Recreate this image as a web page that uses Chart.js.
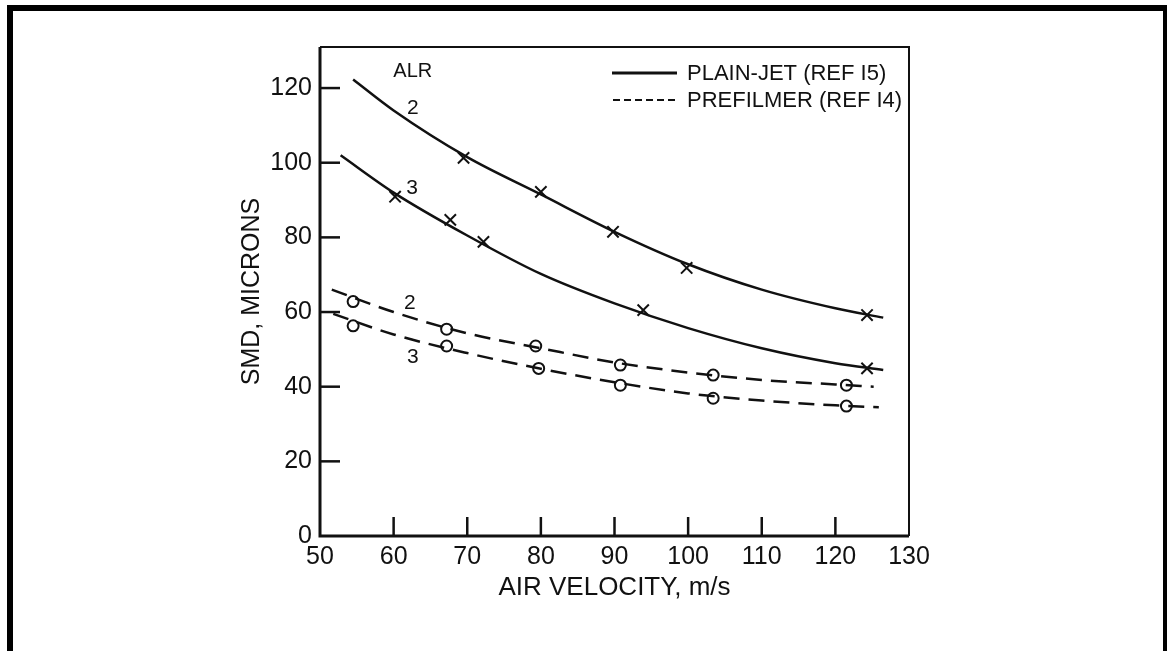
<!DOCTYPE html>
<html>
<head>
<meta charset="utf-8">
<script src="https://cdn.jsdelivr.net/npm/chart.js@4.4.1/dist/chart.umd.min.js"></script>
<style>
  html, body { margin: 0; padding: 0; background: #fff; }
  #wrap { position: relative; width: 1167px; height: 651px; }
</style>
</head>
<body>
<div id="wrap"><canvas id="grafica"></canvas></div>
<script>
// ticks
var xTicks = [50, 60, 70, 80, 90, 100, 110, 120, 130];
var yTicks = [0, 20, 40, 60, 80, 100, 120];

// fitted curves
var jet2X = [54.5, 60, 70, 80, 90, 100, 110, 120, 126.5];
var jet2Y = [122.3, 114, 101.5, 91.5, 81.5, 72.8, 66, 61, 58.5];
var jet3X = [52.8, 60, 70, 80, 90, 100, 110, 120, 126.5];
var jet3Y = [102, 92, 80.5, 70.2, 62.3, 55.7, 50.3, 46.3, 44.5];
var pre2X = [51.6, 60, 70, 80, 90, 100, 110, 120, 125.2];
var pre2Y = [66, 60, 54.3, 50.3, 46.5, 43.8, 41.8, 40.6, 40];
var pre3X = [51.8, 60, 70, 80, 90, 100, 110, 120, 125.9];
var pre3Y = [59.5, 54, 49, 44.8, 41.2, 38.2, 36.3, 35, 34.5];

// measured points
var jetPts2X = [69.5, 80, 89.8, 99.8, 124.3];
var jetPts2Y = [101.3, 92.2, 81.5, 71.8, 59.2];
var jetPts3X = [60.2, 67.7, 72.2, 93.9, 124.3];
var jetPts3Y = [90.9, 84.7, 78.8, 60.5, 44.9];
var prePts2X = [54.5, 67.2, 79.3, 90.8, 103.4, 121.5];
var prePts2Y = [62.8, 55.4, 50.9, 45.8, 43.1, 40.4];
var prePts3X = [54.5, 67.2, 79.7, 90.8, 103.4, 121.5];
var prePts3Y = [56.3, 50.9, 44.9, 40.4, 36.9, 34.8];

// text on the plot: [x, y, text]
var notas = [[62.6, 124.4, 'ALR'], [62.6, 114.6, '2'], [62.5, 93.2, '3'], [62.2, 62.4, '2'], [62.6, 48, '3']];
var leyenda = ['PLAIN-JET (REF I5)', 'PREFILMER (REF I4)'];

var fuente = '"Liberation Sans", Arial, sans-serif';
var tinta = '#111';

function puntos(xs, ys) {
    return xs.map(function (x, i) { return { x: x, y: ys[i] }; });
}

function curva(xs, ys, dash) {
    return {
        data: puntos(xs, ys),
        borderColor: tinta,
        borderWidth: 2.5,
        borderDash: dash,
        pointRadius: 0,
        fill: false,
        tension: 0.4,
        cubicInterpolationMode: 'monotone'
    };
}

function marcas(xs, ys, estilo, radio) {
    return {
        data: puntos(xs, ys),
        showLine: false,
        pointStyle: estilo,
        pointRadius: radio,
        pointBorderWidth: 2,
        pointBorderColor: tinta,
        pointBackgroundColor: '#fff'
    };
}

var dibujo = {
    id: 'dibujo',
    beforeDraw: function (chart) {
        var c = chart.ctx;
        c.save();
        c.fillStyle = '#fff';
        c.fillRect(0, 0, chart.width, chart.height);
        c.fillStyle = '#000';
        c.fillRect(7, 5, 1160, 6);
        c.fillRect(7, 5, 6, 646);
        c.fillRect(1163, 5, 4, 646);
        c.restore();
    },
    afterDraw: function (chart) {
        var c = chart.ctx, a = chart.chartArea;
        var sx = chart.scales.x, sy = chart.scales.y;
        c.save();
        c.strokeStyle = tinta;
        // box
        c.lineWidth = 2;
        c.beginPath();
        c.moveTo(a.left, a.top); c.lineTo(a.right, a.top); c.lineTo(a.right, a.bottom);
        c.stroke();
        c.lineWidth = 3;
        c.beginPath();
        c.moveTo(a.left, a.top); c.lineTo(a.left, a.bottom); c.lineTo(a.right, a.bottom);
        c.stroke();
        // inward ticks
        c.lineWidth = 2.5;
        xTicks.slice(1, -1).forEach(function (v) {
            var px = sx.getPixelForValue(v);
            c.beginPath(); c.moveTo(px, a.bottom); c.lineTo(px, a.bottom - 19); c.stroke();
        });
        yTicks.slice(1).forEach(function (v) {
            var py = sy.getPixelForValue(v);
            c.beginPath(); c.moveTo(a.left, py); c.lineTo(a.left + 20, py); c.stroke();
        });
        // notes
        c.fillStyle = tinta;
        c.textAlign = 'center';
        c.textBaseline = 'middle';
        notas.forEach(function (n) {
            c.font = (n[2] === 'ALR' ? '20px ' : '21px ') + fuente;
            c.fillText(n[2], sx.getPixelForValue(n[0]), sy.getPixelForValue(n[1]));
        });
        // legend
        c.font = '22px ' + fuente;
        c.textAlign = 'left';
        c.lineWidth = 3;
        c.beginPath(); c.moveTo(612, 73); c.lineTo(677, 73); c.stroke();
        c.fillText(leyenda[0], 687, 74);
        c.lineWidth = 2;
        c.setLineDash([7, 4]);
        c.beginPath(); c.moveTo(613, 100); c.lineTo(677, 100); c.stroke();
        c.setLineDash([]);
        c.fillText(leyenda[1], 687, 101);
        c.restore();
    }
};

var ctx = document.getElementById('grafica').getContext('2d');

var miGrafico = new Chart(ctx, {
    type: 'line',
    data: {
        datasets: [
            curva(jet2X, jet2Y, []),
            curva(jet3X, jet3Y, []),
            curva(pre2X, pre2Y, [16, 9]),
            curva(pre3X, pre3Y, [16, 9]),
            marcas(jetPts2X, jetPts2Y, 'crossRot', 8),
            marcas(jetPts3X, jetPts3Y, 'crossRot', 8),
            marcas(prePts2X, prePts2Y, 'circle', 5.5),
            marcas(prePts3X, prePts3Y, 'circle', 5.5)
        ]
    },
    options: {
        responsive: true,
        maintainAspectRatio: false,
        animation: false,
        layout: { padding: { left: 0, top: 47, right: 258, bottom: 0 } },
        plugins: {
            legend: { display: false },
            tooltip: { enabled: false }
        },
        scales: {
            x: {
                type: 'linear',
                min: 50,
                max: 130,
                afterBuildTicks: function (s) { s.ticks = xTicks.map(function (v) { return { value: v }; }); },
                afterFit: function (s) { s.height = 115; },
                grid: { display: false, drawTicks: false },
                border: { display: false },
                ticks: { color: tinta, padding: 6, maxRotation: 0, font: { family: fuente, size: 25 } },
                title: {
                    display: true,
                    text: 'AIR VELOCITY, m/s',
                    color: tinta,
                    font: { family: fuente, size: 26 },
                    padding: { top: 0, bottom: 48 }
                }
            },
            y: {
                min: 0,
                max: 131,
                afterBuildTicks: function (s) { s.ticks = yTicks.map(function (v) { return { value: v }; }); },
                afterFit: function (s) { s.width = 320; },
                grid: { display: false, drawTicks: false },
                border: { display: false },
                ticks: { color: tinta, padding: 8, font: { family: fuente, size: 25 } },
                title: {
                    display: true,
                    text: 'SMD, MICRONS',
                    color: tinta,
                    font: { family: fuente, size: 25 },
                    padding: { top: 237, bottom: 0 }
                }
            }
        }
    },
    plugins: [dibujo]
});
</script>
</body>
</html>
